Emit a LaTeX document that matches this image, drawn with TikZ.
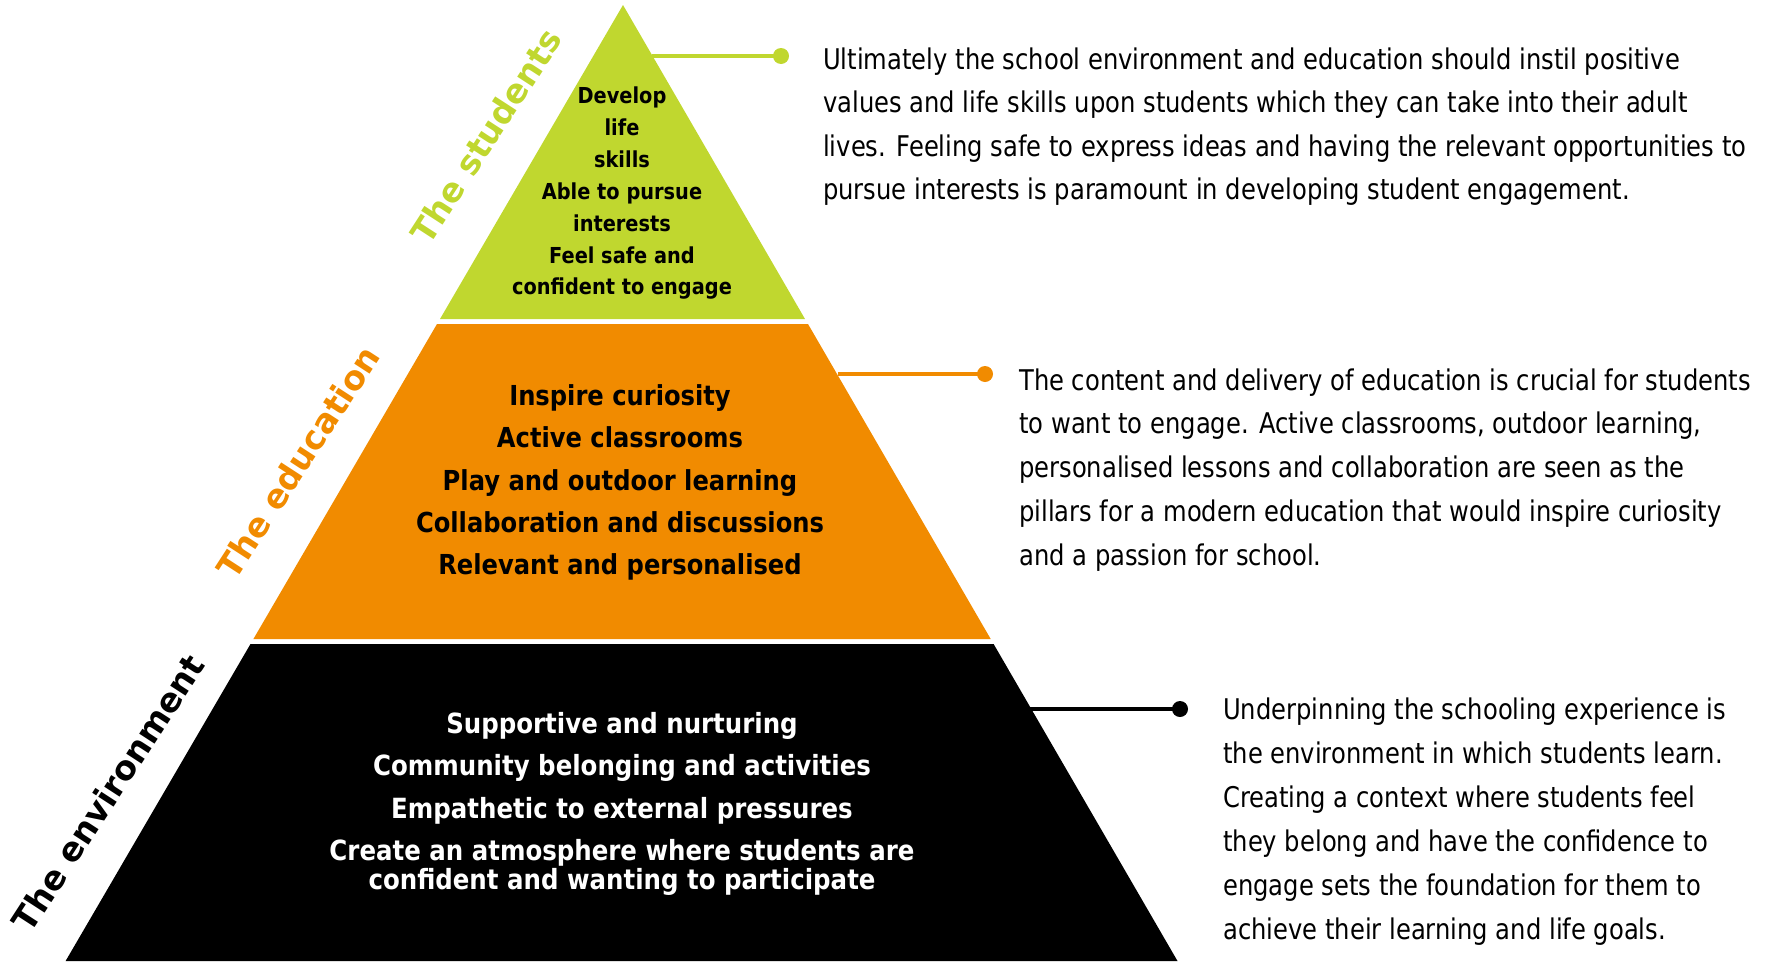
\documentclass[tikz,border=0pt]{standalone}
\usepackage{fontspec}
\newfontfamily\descfont[FakeStretch=0.85]{DejaVu Sans}
\newfontfamily\pyrfont[FakeStretch=0.88]{DejaVu Sans}
\newfontfamily\labfont{DejaVu Sans}
\definecolor{lime}{RGB}{192,215,47}
\definecolor{orng}{RGB}{241,139,0}
\tikzset{
  desc/.style={anchor=base west, inner sep=0pt, font=\descfont\fontsize{28.5}{34}\selectfont},
  gtxt/.style={anchor=base, inner sep=0pt, font=\pyrfont\bfseries\fontsize{22}{26}\selectfont},
  otxt/.style={anchor=base, inner sep=0pt, font=\pyrfont\bfseries\fontsize{27.5}{32}\selectfont},
  btxt/.style={anchor=base, inner sep=0pt, text=white, font=\pyrfont\bfseries\fontsize{27.8}{32}\selectfont},
  lab/.style={inner sep=0pt, rotate=57, font=\labfont\bfseries\fontsize{33.5}{40}\selectfont},
  dot/.style={circle, fill=#1, inner sep=0pt, minimum size=16pt},
  conn/.style={draw=#1, line width=4pt}
}
\begin{document}
\begin{tikzpicture}[x=1pt,y=-1pt]
\useasboundingbox (0,0) rectangle (1779,961);
% layers
\fill[lime] (623,5) -- (440,319) -- (805,319) -- cycle;
\fill[orng] (437,324) -- (808,324) -- (990.7,639) -- (253.4,639) -- cycle;
\fill[black] (250.5,644) -- (993.6,644) -- (1177.5,961) -- (65.6,961) -- cycle;
% connectors
\coordinate (gedge) at (652,56);
\node[dot=lime] (gdot) at (781,56) {};
\draw[conn=lime] (gedge) -- (gdot.center);
\coordinate (oedge) at (838,374);
\node[dot=orng] (odot) at (985,374) {};
\draw[conn=orng] (oedge) -- (odot.center);
\coordinate (bedge) at (1025,709);
\node[dot=black] (bdot) at (1180,709) {};
\draw[conn=black] (bedge) -- (bdot.center);
% side labels
\node[lab, text=lime] (lstud) at (486,136) {The students};
\node[lab, text=orng] (ledu) at (298,462) {The education};
\node[lab, text=black] (lenv) at (108,793) {The environment};
% green text
\node[gtxt] (g1) at (622,103.5) {Develop};
\node[gtxt] (g2) at (622,135.4) {life};
\node[gtxt] (g3) at (622,167.3) {skills};
\node[gtxt] (g4) at (622,199.2) {Able to pursue};
\node[gtxt] (g5) at (622,231.1) {interests};
\node[gtxt] (g6) at (622,263) {Feel safe and};
\node[gtxt] (g7) at (622,294.9) {confident to engage};
% orange text
\node[otxt] (o1) at (620,405) {Inspire curiosity};
\node[otxt] (o2) at (620,447) {Active classrooms};
\node[otxt] (o3) at (620,490) {Play and outdoor learning};
\node[otxt] (o4) at (620,532) {Collaboration and discussions};
\node[otxt] (o5) at (620,574) {Relevant and personalised};
% black text
\node[btxt] (b1) at (622,733) {Supportive and nurturing};
\node[btxt] (b2) at (622,775) {Community belonging and activities};
\node[btxt] (b3) at (622,818) {Empathetic to external pressures};
\node[btxt] (b4) at (622,860) {Create an atmosphere where students are};
\node[btxt] (b5) at (622,889) {confident and wanting to participate};
% right descriptions
\node[desc] (t1) at (823,69) {Ultimately the school environment and education should instil positive};
\node[desc] (t2) at (823,112.5) {values and life skills upon students which they can take into their adult};
\node[desc] (t3) at (823,156) {lives. Feeling safe to express ideas and having the relevant opportunities to};
\node[desc] (t4) at (823,199.5) {pursue interests is paramount in developing student engagement.};
\node[desc] (e1) at (1019,390) {The content and delivery of education is crucial for students};
\node[desc] (e2) at (1019,433.8) {to want to engage. Active classrooms, outdoor learning,};
\node[desc] (e3) at (1019,477.6) {personalised lessons and collaboration are seen as the};
\node[desc] (e4) at (1019,521.4) {pillars for a modern education that would inspire curiosity};
\node[desc] (e5) at (1019,565.2) {and a passion for school.};
\node[desc] (u1) at (1223,719) {Underpinning the schooling experience is};
\node[desc] (u2) at (1223,763) {the environment in which students learn.};
\node[desc] (u3) at (1223,807) {Creating a context where students feel};
\node[desc] (u4) at (1223,851) {they belong and have the confidence to};
\node[desc] (u5) at (1223,895) {engage sets the foundation for them to};
\node[desc] (u6) at (1223,939) {achieve their learning and life goals.};
\end{tikzpicture}
\end{document}
